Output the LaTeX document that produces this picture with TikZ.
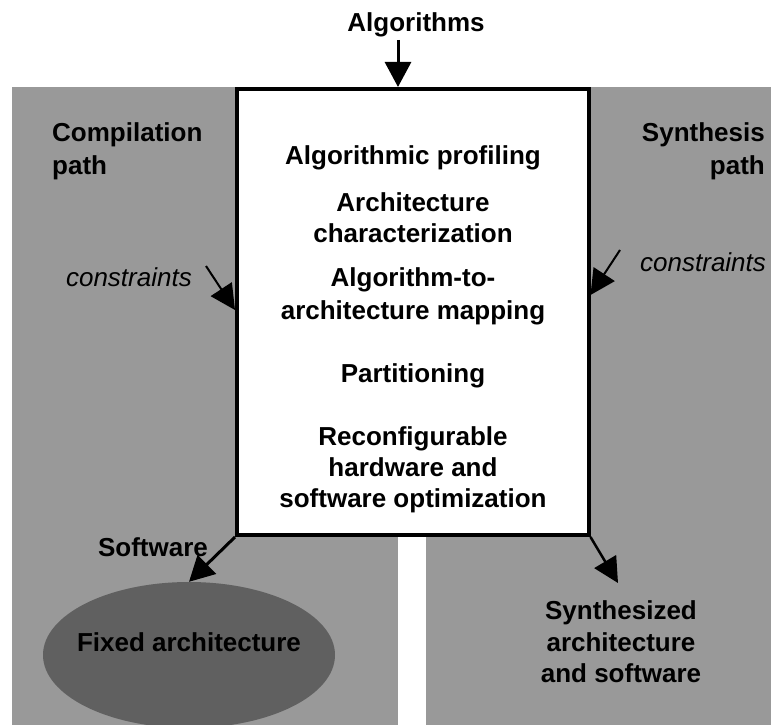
\documentclass[tikz,border=0pt]{standalone}
\usepackage{fontspec}
\setmainfont{Liberation Sans}
\usetikzlibrary{arrows.meta,shapes.geometric}
\definecolor{bggray}{RGB}{153,153,153}
\definecolor{ellgray}{RGB}{96,96,96}
\begin{document}
\begin{tikzpicture}[x=1pt,y=-1pt,
  txt/.style={font=\fontsize{26}{31}\selectfont\bfseries, anchor=base, inner sep=0pt},
  itxt/.style={font=\fontsize{26}{31}\selectfont\itshape, inner sep=0pt},
  bigarrow/.style={-{Triangle[length=25pt,width=26pt]}, line width=3pt},
  thinarrow/.style={-{Triangle[length=25pt,width=25pt]}, line width=2pt}]
\useasboundingbox (0,0) rectangle (771,725);
% gray backgrounds
\fill[bggray] (12,87) rectangle (398,725);
\fill[bggray] (426,87) rectangle (771,725);
% ellipse
\node[ellipse, fill=ellgray, minimum width=292pt, minimum height=146pt, inner sep=0pt] (fixed) at (189,655) {};
% main box
\node[draw, line width=4pt, fill=white, minimum width=351.5pt, minimum height=446pt, inner sep=0pt] (box) at (412.75,312) {};
% texts
\node[txt] (alg) at (416,31.5) {Algorithms};
\node[txt, anchor=base west] (comp1) at (52,141.5) {Compilation};
\node[txt, anchor=base west] (comp2) at (52,174.5) {path};
\node[txt, anchor=base east] (syn1) at (765,141.5) {Synthesis};
\node[txt, anchor=base east] (syn2) at (765,174.5) {path};
\node[txt] (t1) at (413,164.5) {Algorithmic profiling};
\node[txt] (t2) at (413,211) {Architecture};
\node[txt] (t3) at (413,242) {characterization};
\node[txt] (t4) at (413,286.5) {Algorithm-to-};
\node[txt] (t5) at (413,319.5) {architecture mapping};
\node[txt] (t6) at (413,382.5) {Partitioning};
\node[txt] (t7) at (413,445.5) {Reconfigurable};
\node[txt] (t8) at (413,476.5) {hardware and};
\node[txt] (t9) at (413,507.5) {software optimization};
\node[itxt, anchor=base east] (cl) at (192,286) {constraints};
\node[itxt, anchor=base west] (cr) at (640,271) {constraints};
\node[txt] (sw) at (153,556.5) {Software};
\node[txt] (fa) at (189,651.5) {Fixed architecture};
\node[txt] (s1) at (621,619.5) {Synthesized};
\node[txt] (s2) at (621,651.5) {architecture};
\node[txt] (s3) at (621,682.5) {and software};
% arrows
\coordinate (algstart) at (398,40);
\draw[bigarrow] (algstart) -- (algstart |- box.north);
\coordinate (clstart) at (206,266);
\draw[thinarrow] (clstart) -- ([yshift=2pt]box.west);
\coordinate (crstart) at (620,250);
\draw[thinarrow] (crstart) -- ([yshift=17pt]box.east);
\draw[bigarrow] (box.south west) -- (fixed.north);
\coordinate (syntip) at (618,583);
\draw[thinarrow, line width=2.5pt] (box.south east) -- (syntip);
\end{tikzpicture}
\end{document}
